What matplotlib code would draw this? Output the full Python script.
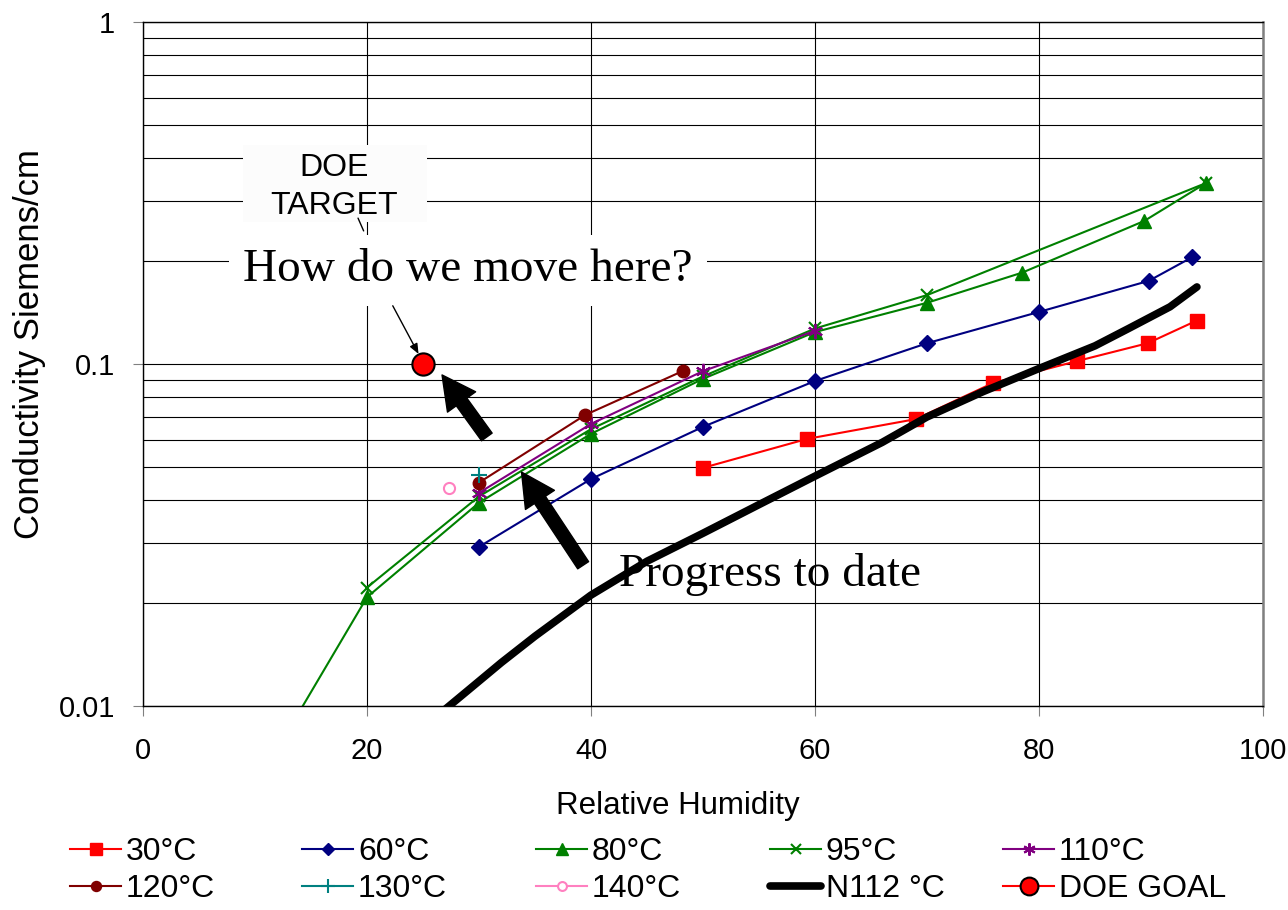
import matplotlib.pyplot as plt
from matplotlib.ticker import LogLocator, NullFormatter
from matplotlib.patches import Rectangle

plt.rcParams['font.family'] = ['Liberation Sans', 'DejaVu Sans']

# data (RH %, conductivity S/cm)
rh_30 = [50, 59.3, 69, 75.9, 83.4, 89.7, 94.1]
sig_30 = [0.0497, 0.0604, 0.069, 0.088, 0.102, 0.115, 0.134]

rh_60 = [30, 40, 50, 60, 70, 80, 89.8, 93.7]
sig_60 = [0.0292, 0.0461, 0.0655, 0.0892, 0.115, 0.142, 0.175, 0.2055]

rh_80 = [10, 20, 30, 40, 50, 60, 70, 78.5, 89.4, 94.9]
sig_80 = [0.0058, 0.0208, 0.0393, 0.0625, 0.0905, 0.124, 0.151, 0.185, 0.262, 0.338]

rh_95 = [20, 30, 40, 50, 60, 70, 94.9]
sig_95 = [0.0222, 0.041, 0.0645, 0.092, 0.127, 0.159, 0.338]

rh_110 = [30, 40, 50, 60]
sig_110 = [0.042, 0.0668, 0.0953, 0.125]

rh_120 = [30, 39.5, 48.2]
sig_120 = [0.045, 0.071, 0.0954]

rh_130 = [30]
sig_130 = [0.0474]

rh_140 = [27.3]
sig_140 = [0.0434]

rh_n112 = [26, 29, 32, 35, 40, 45, 50, 55, 60, 66, 70, 75, 80, 85, 88, 91.7, 94.1]
sig_n112 = [0.0092, 0.0111, 0.0134, 0.016, 0.0211, 0.0265, 0.032, 0.0388, 0.047, 0.059, 0.070, 0.083,
            0.097, 0.113, 0.127, 0.147, 0.168]

rh_goal = [25]
sig_goal = [0.1]

dpi = 100
fig = plt.figure(figsize=(1288 / dpi, 910 / dpi), dpi=dpi)
ax = fig.add_axes([143 / 1288, 1 - 706 / 910, 1120 / 1288, 684 / 910])
ax.set_axisbelow(True)

# series
l30, = ax.plot(rh_30, sig_30, color='#FF0000', lw=1.5, marker='s', ms=10, label='30°C')
l60, = ax.plot(rh_60, sig_60, color='#000080', lw=1.5, marker='D', ms=8, label='60°C')
l80, = ax.plot(rh_80, sig_80, color='#008000', lw=1.5, marker='^', ms=10, label='80°C')
l95, = ax.plot(rh_95, sig_95, color='#008000', lw=1.5, marker='x', ms=9, mew=1.5, label='95°C')
l110, = ax.plot(rh_110, sig_110, color='#800080', lw=1.5, marker=(6, 2, 0), ms=11, mew=1.5, label='110°C')
l120, = ax.plot(rh_120, sig_120, color='#800000', lw=1.5, marker='o', ms=9, label='120°C')
l130, = ax.plot(rh_130, sig_130, color='#008080', lw=1.5, marker='+', ms=12, mew=1.5, label='130°C')
l140, = ax.plot(rh_140, sig_140, color='#FF80C0', lw=1.5, marker='o', ms=8, mfc='white', mew=1.5, label='140°C')
ln112, = ax.plot(rh_n112, sig_n112, color='black', lw=5.5, solid_capstyle='round', solid_joinstyle='round',
                 label='N112 °C')
lgoal, = ax.plot(rh_goal, sig_goal, color='#FF0000', lw=1.5, marker='o', ms=16, mfc='#FF0000', mec='black', mew=1.5,
                 label='DOE GOAL', zorder=5)

ax.set_yscale('log')
ax.set_xlim(0, 100)
ax.set_ylim(0.01, 1)
ax.set_xticks([0, 20, 40, 60, 80, 100])
ax.set_yticks([0.01, 0.1, 1])
ax.set_yticklabels(['0.01', '0.1', '1'])
ax.yaxis.set_minor_locator(LogLocator(base=10, subs=range(2, 10)))
ax.yaxis.set_minor_formatter(NullFormatter())
ax.tick_params(axis='y', which='minor', length=0)
ax.tick_params(axis='y', which='major', length=7, width=0.8, color='#808080', pad=13, labelsize=21)
ax.tick_params(axis='x', which='major', length=7, width=0.8, color='#808080', pad=15, labelsize=21)
ax.yaxis.grid(True, which='both', color='black', lw=0.8)
ax.xaxis.grid(True, which='major', color='black', lw=0.8)
for side in ['left', 'top', 'bottom']:
    ax.spines[side].set_color('black')
    ax.spines[side].set_linewidth(1)
ax.spines['right'].set_color('#808080')
ax.spines['right'].set_linewidth(1.8)

fig.text(678 / 1288, 1 - 806 / 910, 'Relative Humidity', ha='center', va='center', fontsize=22.5)
fig.text(30 / 1288, 1 - 344 / 910, 'Conductivity Siemens/cm', rotation=90, ha='center', va='center', fontsize=25)

# annotations
ax.add_patch(Rectangle((8.9, 0.26), 16.5, 0.177, facecolor='#FCFCFC', edgecolor='none', zorder=2))
ax.text(17.1, 0.33, 'DOE\nTARGET', ha='center', va='center', fontsize=23, linespacing=1.35, zorder=3)
ax.annotate('', xy=(19.7, 0.245), xytext=(19.2, 0.267),
            arrowprops=dict(arrowstyle='-', lw=1, color='black', shrinkA=0, shrinkB=0), zorder=3)

ax.text(29.0, 0.188, 'How do we move here?', ha='center', va='center', fontsize=34,
        family=['Liberation Serif', 'DejaVu Serif'], zorder=3,
        bbox=dict(boxstyle='square,pad=0.3', facecolor='white', edgecolor='none'))
ax.annotate('', xy=(24.6, 0.107), xytext=(22.3, 0.148),
            arrowprops=dict(arrowstyle='-|>,head_length=0.6,head_width=0.25', lw=1, color='black',
                            shrinkA=0, shrinkB=0), zorder=4)

ax.text(56.0, 0.0243, 'Progress to date', ha='center', va='center', fontsize=34,
        family=['Liberation Serif', 'DejaVu Serif'], zorder=3)

big = dict(arrowstyle='simple,head_length=1.2,head_width=1.25,tail_width=0.47', mutation_scale=20,
           color='black', shrinkA=0, shrinkB=0)
ax.annotate('', xy=(26.7, 0.0929), xytext=(30.7, 0.0612), arrowprops=big, zorder=4)
ax.annotate('', xy=(33.8, 0.0483), xytext=(39.3, 0.0258), arrowprops=big, zorder=4)

# legend, laid out as 5 columns of 2 rows
columns = [(l30, l120), (l60, l130), (l80, l140), (l95, ln112), (l110, lgoal)]
col_x = [70, 302, 536, 770, 1003]
for handles, x in zip(columns, col_x):
    fig.legend(handles=list(handles), loc='upper left', bbox_to_anchor=(x / 1288, 1 - 837 / 910),
               frameon=False, fontsize=23, handlelength=1.6, handletextpad=0.15, labelspacing=0.22,
               borderpad=0, borderaxespad=0, markerscale=0.8)

fig.savefig('out.png', dpi=dpi)
